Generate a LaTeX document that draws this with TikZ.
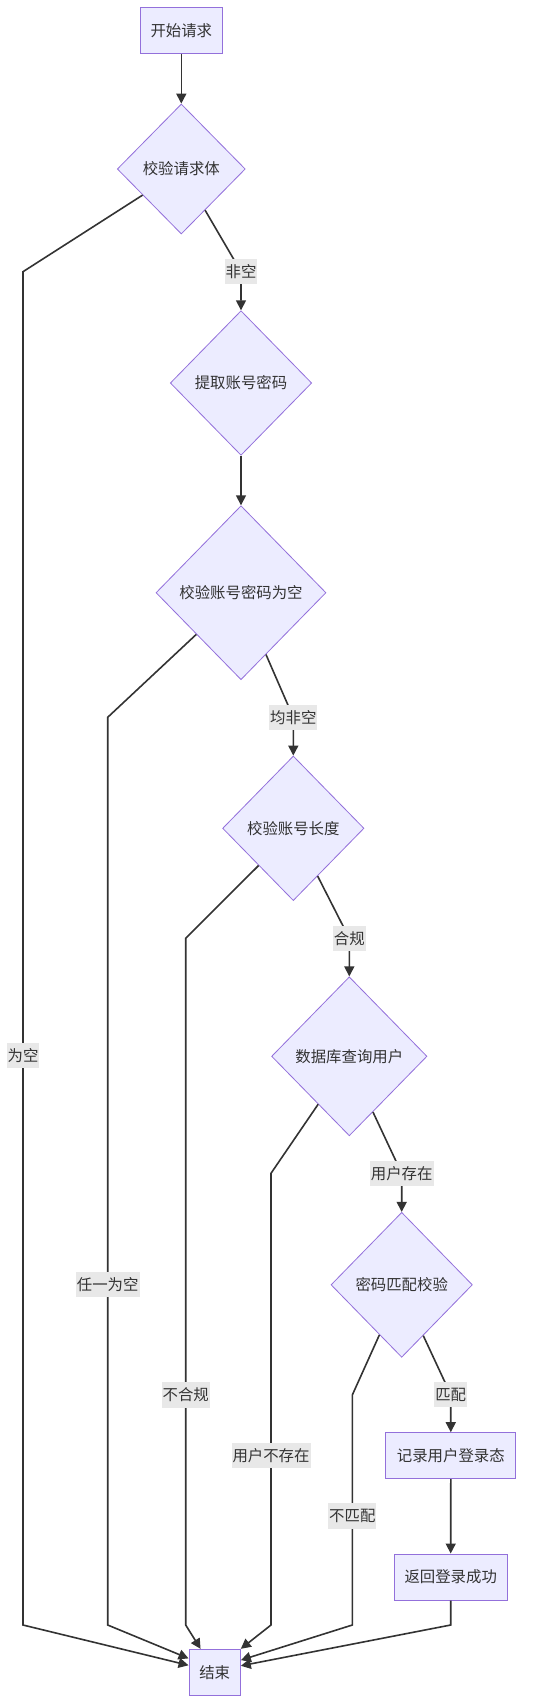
\documentclass[tikz,border=0pt]{standalone}
\usepackage{fontspec}
\newfontfamily\cjk{Noto Sans CJK SC}
\usetikzlibrary{shapes.geometric,arrows.meta}
\definecolor{nodefill}{HTML}{ECECFF}
\definecolor{nodeborder}{HTML}{9370DB}
\definecolor{edgecol}{HTML}{333333}
\definecolor{lblfill}{HTML}{E8E8E8}
\tikzset{
  base/.style={fill=nodefill, draw=nodeborder, text=edgecol, font=\cjk\fontsize{15.4pt}{18pt}\selectfont, inner sep=0pt},
  procbox/.style={base, rectangle, line width=1pt, minimum height=46pt},
  decision/.style={base, diamond, line width=0.8pt},
  lbl/.style={fill=lblfill, text=edgecol, font=\cjk\fontsize{15.4pt}{18pt}\selectfont, inner xsep=1pt, inner ysep=0pt, minimum height=25.5pt},
  conn/.style={draw=edgecol, line width=1.6pt},
  arr/.style={conn, -{Triangle[length=10pt,width=10pt]}}
}
\begin{document}
\begin{tikzpicture}[x=1pt,y=-1pt]
\useasboundingbox (0,0) rectangle (537,1703);
% nodes
\node[procbox, minimum width=82pt] (start) at (181.3,30.3) {开始请求};
\node[decision, minimum width=128pt, minimum height=130pt] (d1) at (181.3,169) {校验请求体};
\node[decision, minimum width=141.4pt, minimum height=144.6pt] (d2) at (241,383) {提取账号密码};
\node[decision, minimum width=170pt, minimum height=174pt] (d3) at (241,592.7) {校验账号密码为空};
\node[decision, minimum width=141.4pt, minimum height=144.6pt] (d4) at (293.3,828.3) {校验账号长度};
\node[decision, minimum width=155.4pt, minimum height=159pt] (d5) at (349.3,1056.3) {数据库查询用户};
\node[decision, minimum width=141.4pt, minimum height=145pt] (d6) at (401.7,1284.8) {密码匹配校验};
\node[procbox, minimum width=129.7pt] (rec) at (450.8,1455.7) {记录用户登录态};
\node[procbox, minimum width=113.3pt] (ret) at (450.7,1577) {返回登录成功};
\node[procbox, minimum width=51.3pt] (end) at (214.7,1672.3) {结束};
% bend coordinates
\coordinate (b1) at (23,271.7);   \coordinate (b1d) at (23,1625);
\coordinate (c1) at (241,271.7);
\coordinate (b2) at (107.7,717.3); \coordinate (b2d) at (107.7,1625);
\coordinate (c2) at (293.3,717.3);
\coordinate (b3) at (185.7,938.3); \coordinate (b3d) at (185.7,1625);
\coordinate (c3) at (349.3,938.3);
\coordinate (b4) at (271,1173.3); \coordinate (b4d) at (271,1625);
\coordinate (c4) at (401.7,1173.3);
\coordinate (b5) at (352.3,1395); \coordinate (b5d) at (352.3,1625);
\coordinate (c5) at (450.7,1394.5);
\coordinate (b6) at (450.7,1625);
% label positions
\coordinate (m1) at (23,1055.5);
\coordinate (m2) at (107.7,1284.3);
\coordinate (m3) at (185.7,1395);
\coordinate (m4) at (271,1455.7);
\coordinate (m5) at (352.3,1516);
% edges
\draw[arr] (start.south) -- (d1.north);
\draw[arr] (d1.214.7) -- (b1) -- (b1d) -- (end.165.6);
\draw[arr] (d1.300.3) -- (c1) -- (d2.north);
\draw[arr] (d2.south) -- (d3.north);
\draw[arr] (d3.223.7) -- (b2) -- (b2d) -- (end.152.6);
\draw[arr] (d3.292.7) -- (c2) -- (d4.north);
\draw[arr] (d4.227.1) -- (b3) -- (b3d) -- (end.121.3);
\draw[arr] (d4.297.2) -- (c3) -- (d5.north);
\draw[arr] (d5.237.2) -- (b4) -- (b4d) -- (end.42);
\draw[arr] (d5.293.9) -- (c4) -- (d6.north);
\draw[arr] (d6.246.8) -- (b5) -- (b5d) -- (end.25.6);
\draw[arr] (d6.293.7) -- (c5) -- (rec.north);
\draw[arr] (rec.south) -- (ret.north);
\draw[arr] (ret.south) -- (b6) -- (end.14.4);
% labels
\node[lbl] (l1) at (c1) {非空};
\node[lbl] (l2) at (c2) {均非空};
\node[lbl] (l3) at (c3) {合规};
\node[lbl] (l4) at (c4) {用户存在};
\node[lbl] (l5) at (c5) {匹配};
\node[lbl] (l6) at (m1) {为空};
\node[lbl] (l7) at (m2) {任一为空};
\node[lbl] (l8) at (m3) {不合规};
\node[lbl] (l9) at (m4) {用户不存在};
\node[lbl] (l10) at (m5) {不匹配};
\end{tikzpicture}
\end{document}
